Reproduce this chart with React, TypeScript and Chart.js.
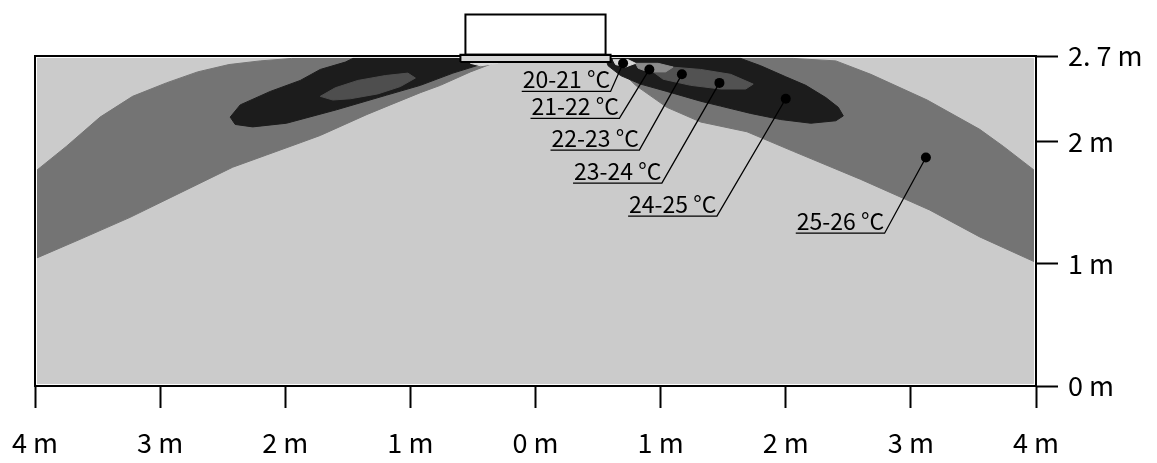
import React, { useEffect, useRef } from 'react';
import { Chart, registerables } from 'chart.js';

Chart.register(...registerables);

// ---- axes ----
const X_MIN = -4;
const X_MAX = 4;
const Y_MIN = 0;
const Y_MAX = 2.7;
const X_TICKS = [-4, -3, -2, -1, 0, 1, 2, 3, 4];
const X_TICK_LABELS = ['4 m', '3 m', '2 m', '1 m', '0 m', '1 m', '2 m', '3 m', '4 m'];
const Y_TICKS = [0, 1, 2, 2.7];
const Y_TICK_LABELS = ['0 m', '1 m', '2 m', '2. 7 m'];

// ---- temperature regions (metres) ----
const ROOM_X = [-3.98, 3.98, 3.98, -3.98];
const ROOM_Y = [0.02, 0.02, 2.68, 2.68];

const BAND_R_X = [0.6, 2.06, 2.4, 2.68, 3.13, 3.55, 3.74, 3.98, 3.98, 3.55, 3.15, 2.6, 2.06, 1.69, 1.32, 1.05, 0.8, 0.69, 0.61];
const BAND_R_Y = [2.68, 2.68, 2.66, 2.55, 2.34, 2.1, 1.96, 1.77, 1.02, 1.22, 1.44, 1.69, 1.92, 2.08, 2.16, 2.28, 2.46, 2.57, 2.65];

const BAND_L_X = [-0.6, -1.95, -2.2, -2.45, -2.7, -2.95, -3.22, -3.48, -3.75, -3.98, -3.98, -3.64, -3.24, -2.84, -2.42, -2.15, -1.88, -1.72, -1.35, -1.16, -0.92, -0.76, -0.52, -0.34, -0.28];
const BAND_L_Y = [2.68, 2.68, 2.66, 2.63, 2.57, 2.48, 2.37, 2.2, 1.96, 1.77, 1.05, 1.2, 1.38, 1.58, 1.79, 1.89, 1.99, 2.05, 2.22, 2.3, 2.4, 2.46, 2.57, 2.64, 2.68];

const DARK_L_X = [-2.44, -2.36, -2.12, -1.88, -1.72, -1.52, -1.46, -0.62, -0.44, -0.66, -0.92, -1.19, -1.59, -1.99, -2.26, -2.4];
const DARK_L_Y = [2.2, 2.3, 2.41, 2.5, 2.59, 2.65, 2.68, 2.68, 2.63, 2.56, 2.46, 2.38, 2.26, 2.15, 2.12, 2.14];

const INNER_L_X = [-1.72, -1.6, -1.42, -1.2, -1.02, -0.96, -1.08, -1.26, -1.48, -1.62];
const INNER_L_Y = [2.37, 2.44, 2.5, 2.54, 2.56, 2.52, 2.45, 2.39, 2.35, 2.34];

const DARK_R_X = [0.56, 1.64, 1.8, 2.0, 2.16, 2.32, 2.42, 2.46, 2.4, 2.2, 1.96, 1.72, 1.48, 1.32, 1.05, 0.84, 0.68, 0.58];
const DARK_R_Y = [2.68, 2.68, 2.62, 2.53, 2.46, 2.36, 2.28, 2.21, 2.17, 2.15, 2.18, 2.23, 2.29, 2.33, 2.41, 2.47, 2.54, 2.62];

const INNER_R_X = [0.9, 1.08, 1.32, 1.56, 1.74, 1.68, 1.48, 1.24, 1.02];
const INNER_R_Y = [2.6, 2.61, 2.59, 2.55, 2.47, 2.43, 2.43, 2.46, 2.51];

const LIGHT_R_X = [0.8, 0.98, 1.1, 1.04, 0.9, 0.82];
const LIGHT_R_Y = [2.64, 2.64, 2.61, 2.57, 2.57, 2.6];

const WHITE_R_X = [0.62, 0.74, 0.8, 0.72, 0.64];
const WHITE_R_Y = [2.67, 2.67, 2.64, 2.61, 2.63];
const WHITE_L_X = [-0.54, -0.34, -0.3, -0.44, -0.52];
const WHITE_L_Y = [2.67, 2.67, 2.64, 2.62, 2.64];

// ---- air-conditioner outlet ----
const OUTLET_BOX_X = [-0.56, 0.56, 0.56, -0.56, -0.56];
const OUTLET_BOX_Y = [2.71, 2.71, 3.04, 3.04, 2.71];
const OUTLET_GRILLE_X = [-0.6, 0.6, 0.6, -0.6, -0.6];
const OUTLET_GRILLE_Y = [2.65, 2.65, 2.71, 2.71, 2.65];

// ---- labels ----
const LABEL_TEXT = ['20-21 °C', '21-22 °C', '22-23 °C', '23-24 °C', '24-25 °C', '25-26 °C'];
const LABEL_X0 = [-0.11, -0.04, 0.12, 0.3, 0.74, 2.08];
const LABEL_X1 = [0.6, 0.67, 0.83, 1.01, 1.45, 2.79];
const LABEL_Y = [2.41, 2.19, 1.93, 1.66, 1.39, 1.25];
const DOT_X = [0.7, 0.91, 1.17, 1.47, 2.0, 3.12];
const DOT_Y = [2.64, 2.59, 2.55, 2.48, 2.35, 1.87];

const FONT = '"Noto Sans CJK JP", sans-serif';

const pts = (xs: number[], ys: number[]) => {
  const p = xs.map((x, i) => ({ x, y: ys[i] }));
  p.push({ x: xs[0], y: ys[0] });
  return p;
};

const region = (label: string, xs: number[], ys: number[], color: string, order: number) => ({
  label,
  data: pts(xs, ys),
  showLine: true,
  fill: 'shape',
  backgroundColor: color,
  borderColor: color,
  borderWidth: 1,
  borderJoinStyle: 'round',
  pointRadius: 0,
  tension: 0,
  order,
});

const overlayPlugin = {
  id: 'overlay',
  beforeDatasetsDraw(chart: any) {
    const { ctx, chartArea: a } = chart;
    ctx.save();
    ctx.strokeStyle = '#000';
    ctx.lineWidth = 2;
    ctx.beginPath();
    ctx.moveTo(a.left, a.bottom);
    ctx.lineTo(a.left, a.top);
    ctx.lineTo(a.right, a.top);
    ctx.stroke();
    ctx.restore();
  },
  afterDatasetsDraw(chart: any) {
    const { ctx } = chart;
    const xs = chart.scales.x;
    const ys = chart.scales.y;
    ctx.save();
    ctx.font = `23px ${FONT}`;
    ctx.fillStyle = '#000';
    ctx.textBaseline = 'alphabetic';
    ctx.textAlign = 'left';
    LABEL_TEXT.forEach((t, i) => {
      ctx.fillText(t, xs.getPixelForValue(LABEL_X0[i]) + 1, ys.getPixelForValue(LABEL_Y[i]) - 3);
    });
    ctx.restore();
  },
};

export default function App() {
  const ref = useRef<HTMLCanvasElement>(null);
  useEffect(() => {
    const datasets: any[] = [
      region('room', ROOM_X, ROOM_Y, '#cbcbcb', 100),
      region('25-26 °C R', BAND_R_X, BAND_R_Y, '#747474', 90),
      region('25-26 °C L', BAND_L_X, BAND_L_Y, '#747474', 90),
      region('24-25 °C L', DARK_L_X, DARK_L_Y, '#1c1c1c', 80),
      region('24-25 °C R', DARK_R_X, DARK_R_Y, '#1c1c1c', 80),
      region('23-24 °C L', INNER_L_X, INNER_L_Y, '#4e4e4e', 70),
      region('23-24 °C R', INNER_R_X, INNER_R_Y, '#525252', 70),
      region('21-22 °C', LIGHT_R_X, LIGHT_R_Y, '#8c8c8c', 60),
      region('20-21 °C R', WHITE_R_X, WHITE_R_Y, '#d8d8d8', 50),
      region('20-21 °C L', WHITE_L_X, WHITE_L_Y, '#d8d8d8', 50),
      {
        label: 'grille',
        data: pts(OUTLET_GRILLE_X, OUTLET_GRILLE_Y),
        showLine: true,
        fill: 'shape',
        backgroundColor: '#d6d6d6',
        borderColor: '#000',
        borderWidth: 2,
        pointRadius: 0,
        clip: false,
        order: 40,
      },
      {
        label: 'outlet',
        data: pts(OUTLET_BOX_X, OUTLET_BOX_Y),
        showLine: true,
        fill: false,
        borderColor: '#000',
        borderWidth: 2,
        pointRadius: 0,
        clip: false,
        order: 40,
      },
      ...LABEL_TEXT.map((t, i) => ({
        label: 'leader ' + t,
        data: [
          { x: LABEL_X0[i], y: LABEL_Y[i] },
          { x: LABEL_X1[i], y: LABEL_Y[i] },
          { x: DOT_X[i], y: DOT_Y[i] },
        ],
        showLine: true,
        fill: false,
        borderColor: '#000',
        borderWidth: 1.3,
        pointRadius: 0,
        order: 30,
      })),
      {
        label: 'dots',
        data: DOT_X.map((x, i) => ({ x, y: DOT_Y[i] })),
        showLine: false,
        pointRadius: 5,
        pointBackgroundColor: '#000',
        pointBorderWidth: 0,
        order: 20,
      },
    ];

    const chart = new Chart(ref.current as HTMLCanvasElement, {
      type: 'scatter',
      data: { datasets },
      plugins: [overlayPlugin],
      options: {
        responsive: false,
        animation: false,
        events: [],
        layout: { padding: { left: 35, top: 56, right: 0, bottom: 0 } },
        plugins: { legend: { display: false }, tooltip: { enabled: false } },
        scales: {
          x: {
            type: 'linear',
            position: 'bottom',
            min: X_MIN,
            max: X_MAX,
            afterBuildTicks: (s: any) => {
              s.ticks = X_TICKS.map((v) => ({ value: v }));
            },
            afterFit: (s: any) => {
              s.height = 77;
              s.paddingLeft = 0;
              s.paddingRight = 0;
            },
            ticks: {
              autoSkip: false,
              maxRotation: 0,
              padding: 19,
              color: '#000',
              font: { family: FONT, size: 27 },
              callback: (_v: any, i: number) => X_TICK_LABELS[i],
            },
            grid: { drawOnChartArea: false, drawTicks: true, tickLength: 22, tickWidth: 2, tickColor: '#000' },
            border: { display: true, color: '#000', width: 2 },
          },
          y: {
            type: 'linear',
            position: 'right',
            min: Y_MIN,
            max: Y_MAX,
            afterBuildTicks: (s: any) => {
              s.ticks = Y_TICKS.map((v) => ({ value: v }));
            },
            afterFit: (s: any) => {
              s.width = 121;
              s.paddingTop = 0;
              s.paddingBottom = 0;
            },
            ticks: {
              autoSkip: false,
              padding: 10,
              color: '#000',
              font: { family: FONT, size: 27 },
              callback: (_v: any, i: number) => Y_TICK_LABELS[i],
            },
            grid: { drawOnChartArea: false, drawTicks: true, tickLength: 22, tickWidth: 2, tickColor: '#000' },
            border: { display: true, color: '#000', width: 2 },
          },
        },
      } as any,
    });
    return () => chart.destroy();
  }, []);

  return (
    <div style={{ position: 'fixed', left: 0, top: 0, width: 1157, height: 463, background: '#fff' }}>
      <canvas ref={ref} width={1157} height={463} style={{ display: 'block' }} />
    </div>
  );
}
